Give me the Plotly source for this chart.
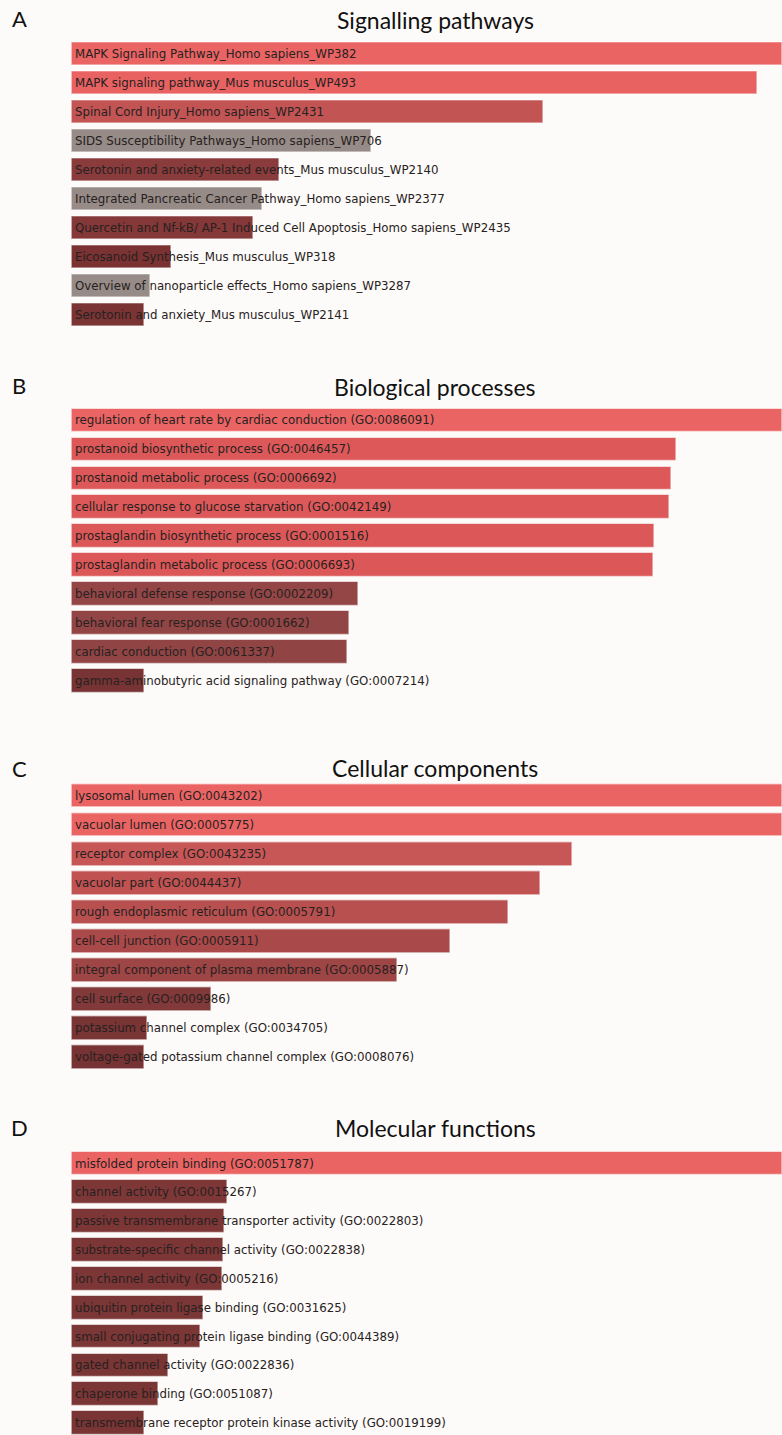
import plotly.graph_objects as go

# ---- enrichment results (relative combined score, top term = 1.0) ----
pathway_terms = [
    "MAPK Signaling Pathway_Homo sapiens_WP382",
    "MAPK signaling pathway_Mus musculus_WP493",
    "Spinal Cord Injury_Homo sapiens_WP2431",
    "SIDS Susceptibility Pathways_Homo sapiens_WP706",
    "Serotonin and anxiety-related events_Mus musculus_WP2140",
    "Integrated Pancreatic Cancer Pathway_Homo sapiens_WP2377",
    "Quercetin and Nf-kB/ AP-1 Induced Cell Apoptosis_Homo sapiens_WP2435",
    "Eicosanoid Synthesis_Mus musculus_WP318",
    "Overview of nanoparticle effects_Homo sapiens_WP3287",
    "Serotonin and anxiety_Mus musculus_WP2141",
]
pathway_scores = [1.0, 0.966, 0.665, 0.422, 0.293, 0.269, 0.256, 0.141, 0.111, 0.103]

process_terms = [
    "regulation of heart rate by cardiac conduction (GO:0086091)",
    "prostanoid biosynthetic process (GO:0046457)",
    "prostanoid metabolic process (GO:0006692)",
    "cellular response to glucose starvation (GO:0042149)",
    "prostaglandin biosynthetic process (GO:0001516)",
    "prostaglandin metabolic process (GO:0006693)",
    "behavioral defense response (GO:0002209)",
    "behavioral fear response (GO:0001662)",
    "cardiac conduction (GO:0061337)",
    "gamma-aminobutyric acid signaling pathway (GO:0007214)",
]
process_scores = [1.0, 0.852, 0.844, 0.841, 0.820, 0.819, 0.404, 0.391, 0.388, 0.103]

component_terms = [
    "lysosomal lumen (GO:0043202)",
    "vacuolar lumen (GO:0005775)",
    "receptor complex (GO:0043235)",
    "vacuolar part (GO:0044437)",
    "rough endoplasmic reticulum (GO:0005791)",
    "cell-cell junction (GO:0005911)",
    "integral component of plasma membrane (GO:0005887)",
    "cell surface (GO:0009986)",
    "potassium channel complex (GO:0034705)",
    "voltage-gated potassium channel complex (GO:0008076)",
]
component_scores = [1.0, 1.0, 0.705, 0.660, 0.615, 0.534, 0.459, 0.197, 0.107, 0.103]

function_terms = [
    "misfolded protein binding (GO:0051787)",
    "channel activity (GO:0015267)",
    "passive transmembrane transporter activity (GO:0022803)",
    "substrate-specific channel activity (GO:0022838)",
    "ion channel activity (GO:0005216)",
    "ubiquitin protein ligase binding (GO:0031625)",
    "small conjugating protein ligase binding (GO:0044389)",
    "gated channel activity (GO:0022836)",
    "chaperone binding (GO:0051087)",
    "transmembrane receptor protein kinase activity (GO:0019199)",
]
function_scores = [1.0, 0.219, 0.215, 0.214, 0.212, 0.186, 0.181, 0.136, 0.122, 0.103]

panel_letters = ["A", "B", "C", "D"]
panel_titles = ["Signalling pathways", "Biological processes",
                "Cellular components", "Molecular functions"]

# ---- bar fill colours ----
pathway_colors = ["#EB6464", "#E96262", "#C25454", "#968B87", "#8A3B3B",
                  "#968B87", "#853838", "#7A3232", "#968B87", "#7A3434"]
process_colors = ["#EB6464", "#DD5959", "#DD5959", "#DD5959", "#DC5858",
                  "#DC5858", "#944646", "#924545", "#904444", "#783434"]
component_colors = ["#EB6464", "#EB6464", "#C75656", "#C05252", "#B85050",
                    "#AA4949", "#9E4545", "#823939", "#793434", "#773333"]
function_colors = ["#EB6464", "#7D3737", "#7C3636", "#7C3636", "#7C3636",
                   "#7B3636", "#7B3636", "#7A3535", "#7A3535", "#793434"]

panels = [
    (pathway_terms, pathway_scores, pathway_colors),
    (process_terms, process_scores, process_colors),
    (component_terms, component_scores, component_colors),
    (function_terms, function_scores, function_colors),
]

W, H = 782, 1435
BG = "#FDFBF9"
X0 = 71.5  # left edge of the bar area in px

# panel geometry in px: centre of first row, row pitch, title line, letter line
geom = [
    dict(c0=54.0, pitch=29.0, title=19.5, letter=18.5),
    dict(c0=420.5, pitch=28.95, title=386.5, letter=385.5),
    dict(c0=796.0, pitch=29.05, title=768.5, letter=768),
    dict(c0=1163.5, pitch=28.85, title=1127.5, letter=1127.5),
]

fig = go.Figure()
annotations = []

for i, ((terms, scores, colors), g) in enumerate(zip(panels, geom)):
    n = len(terms)
    top_px = g["c0"] - g["pitch"] / 2
    bot_px = min(g["c0"] + (n - 0.5) * g["pitch"], H)
    y_hi = (bot_px - g["c0"]) / g["pitch"]
    ax = "" if i == 0 else str(i + 1)
    fig.add_trace(go.Bar(
        x=scores, y=list(range(n)), orientation="h",
        marker=dict(color=colors, line=dict(color="rgba(255,255,255,0.55)", width=1.2)),
        width=0.82, hoverinfo="skip",
        xaxis="x" + ax, yaxis="y" + ax, showlegend=False,
    ))
    fig.update_layout(**{
        "xaxis" + ax: dict(domain=[X0 / W, 1], range=[0, 1.0], visible=False,
                           fixedrange=True),
        "yaxis" + ax: dict(domain=[1 - bot_px / H, 1 - top_px / H],
                           range=[y_hi, -0.5], visible=False, fixedrange=True),
    })
    for k, t in enumerate(terms):
        annotations.append(dict(
            x=0, y=k, xref="x" + ax, yref="y" + ax, text=t, showarrow=False,
            xanchor="left", yanchor="middle", xshift=1.5,
            font=dict(family="DejaVu Sans", size=11.8, color="#272121"),
        ))
    annotations.append(dict(
        x=435 / W, y=1 - g["title"] / H, xref="paper", yref="paper",
        text=panel_titles[i], showarrow=False, xanchor="center", yanchor="middle",
        font=dict(family="Lato", size=23, color="#111111"),
    ))
    annotations.append(dict(
        x=19 / W, y=1 - g["letter"] / H, xref="paper", yref="paper",
        text=panel_letters[i], showarrow=False, xanchor="center", yanchor="middle",
        font=dict(family="Lato", size=22, color="#111111"),
    ))

fig.update_layout(
    width=W, height=H, margin=dict(l=0, r=0, t=0, b=0),
    paper_bgcolor=BG, plot_bgcolor=BG, bargap=0,
    annotations=annotations,
)

fig.write_html("out.html", config={"displayModeBar": False})
